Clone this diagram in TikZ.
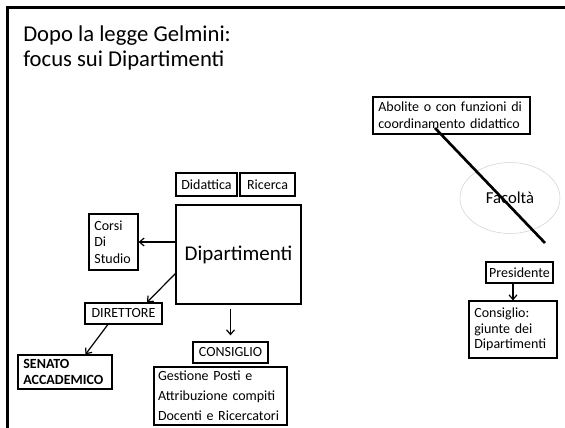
\documentclass[tikz,border=0pt]{standalone}
\usepackage{fontspec}
\setmainfont{Carlito}
\usetikzlibrary{arrows.meta,shapes.geometric,shadows,calc}
\tikzset{
    box/.style={draw, line width=0.9pt, fill=white, inner sep=0pt,
        font=\fontsize{10.5}{12.5}\selectfont,
        drop shadow={shadow xshift=0.6pt, shadow yshift=-0.6pt, opacity=0.3}},
    lbox/.style={box, align=left, inner xsep=4pt},
    conn/.style={-{Straight Barb[length=3.5pt,width=6pt]}, line width=0.9pt},
}

\begin{document}
\begin{tikzpicture}[x=0.75pt, y=-0.75pt]
    \useasboundingbox (0,0) rectangle (565,428);
    % slide frame
    \draw[line width=1.9pt] (7.5,428) -- (7.5,7.5) -- (565,7.5);
    \node[anchor=north west, align=left, inner sep=0pt,
          font=\fontsize{17}{19}\selectfont] (title) at (23,25)
        {Dopo la legge Gelmini:\\focus sui Dipartimenti};

    % right side: faculties
    \node[lbox, text width=109.75pt, minimum height=27.75pt] (abolite) at (451.5,115.5)
        {Abolite o con funzioni di\\ coordinamento didattico};
    \node[ellipse, draw=gray!35, fill=white, minimum width=75pt, minimum height=53.25pt,
          inner sep=0pt, font=\fontsize{12.5}{14}\selectfont] (facolta) at (510,198) {Facoltà};
    \node[box, minimum width=50.25pt, minimum height=15.75pt] (pres) at (519.5,272.5) {Presidente};
    \node[lbox, text width=58pt, minimum height=42.75pt,
          font=\fontsize{10.5}{11.5}\selectfont] (giunte) at (513,329.5)
        {Consiglio:\\ giunte dei\\ Dipartimenti};
    \coordinate (cross a) at (435,128);
    \coordinate (cross b) at (545,243);
    \draw[line width=2pt] (cross a) -- (cross b);
    \draw[conn] (pres.south -| giunte.north) -- (giunte.north);

    % left side: departments
    \node[box, minimum width=45.75pt, minimum height=17.25pt] (didattica) at (206.5,184.5) {Didattica};
    \node[box, minimum width=41.25pt, minimum height=17.25pt] (ricerca) at (267.5,184.5) {Ricerca};
    \node[box, minimum width=93.75pt, minimum height=74.25pt,
          font=\fontsize{15.75}{18}\selectfont] (dip) at (238.5,254.5) {Dipartimenti};
    \node[lbox, text width=28.75pt, minimum height=42pt] (corsi) at (113.5,242)
        {Corsi\\ Di\\ Studio};
    \node[box, minimum width=57.75pt, minimum height=15.75pt] (dir) at (123.5,313.5) {DIRETTORE};
    \node[lbox, text width=62.5pt, minimum height=25.5pt,
          font=\fontsize{10.5}{12.5}\selectfont\bfseries] (senato) at (65,372)
        {SENATO\\ ACCADEMICO};
    \node[box, minimum width=56.25pt, minimum height=15.75pt] (consiglio) at (230.5,352.5) {CONSIGLIO};
    \node[lbox, inner xsep=3pt, text width=93.75pt, minimum height=43.5pt,
          font=\fontsize{10.5}{15}\selectfont] (gestione) at (220.5,396)
        {Gestione Posti e\\ Attribuzione compiti\\ Docenti e Ricercatori};

    \draw[conn] (dip.west |- corsi.east) -- (corsi.east);
    \draw[conn] ($(dip.south west)!0.31!(dip.north west)$) -- ($(dir.north)!0.6!(dir.north east)$);
    \draw[conn] ($(dir.south)!0.4!(dir.south west)$) -- ($(senato.north)!0.43!(senato.north east)$);
    \draw[conn, shorten <=3pt, shorten >=4.5pt] (consiglio.north |- dip.south) -- (consiglio.north);
\end{tikzpicture}
\end{document}
